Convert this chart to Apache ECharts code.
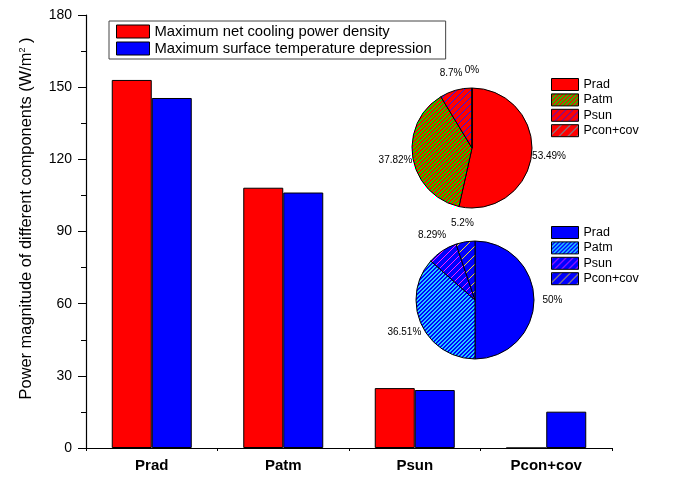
<!DOCTYPE html>
<html>
<head>
<meta charset="utf-8">
<script src="https://cdn.jsdelivr.net/npm/echarts@6/dist/echarts.min.js"></script>
<style>
  html, body { margin: 0; padding: 0; background: #fff; }
  #chart { width: 680px; height: 480px; }
</style>
</head>
<body>
<div id="chart"></div>
<script>
// Components of the radiative cooling power balance
var categories = ['Prad', 'Patm', 'Psun', 'Pcon+cov'];
var seriesNames = ['Maximum net cooling power density', 'Maximum surface temperature depression'];
var coolingPower = [153, 108.2, 24.9, 0];
var tempDepression = [145.5, 106.2, 24.1, 15.1];
// Percentage shares shown in the two pies
var coolingShare = [53.49, 37.82, 8.7, 0];
var depressionShare = [50, 36.51, 8.29, 5.2];
var yTicks = [0, 30, 60, 90, 120, 150, 180];

var FONT = '"Liberation Sans", Arial, sans-serif';

// Crisp diagonal hatch ("/" lines) as a repeating canvas pattern
function hatch(bg, fg, period, width) {
  var c = document.createElement('canvas');
  c.width = period; c.height = period;
  var g = c.getContext('2d');
  g.fillStyle = bg; g.fillRect(0, 0, period, period);
  g.fillStyle = fg;
  for (var y = 0; y < period; y++) {
    for (var x = 0; x < period; x++) {
      if ((x + y) % period < width) g.fillRect(x, y, 1, 1);
    }
  }
  return { image: c, repeat: 'repeat' };
}

var RED = '#ff0000', BLUE = '#0000ff';
var fillsA = [RED, hatch(RED, '#00e000', 4, 2), hatch(RED, '#1a1aff', 7, 1), hatch(RED, '#33ccdd', 9, 1)];
var fillsB = [BLUE, hatch(BLUE, '#22ccff', 4, 2), hatch(BLUE, '#ff22ff', 7, 1), hatch(BLUE, '#f0dd22', 9, 1)];

function pieData(values, fills) {
  return categories.map(function (name, i) {
    return { name: name, value: values[i], itemStyle: { color: fills[i] } };
  });
}
function legendData(fills) {
  return categories.map(function (name, i) {
    return { name: name, itemStyle: { color: fills[i], borderColor: '#000', borderWidth: 1 } };
  });
}

var pieLegendBase = {
  orient: 'vertical', left: 551, itemWidth: 27, itemHeight: 12, itemGap: 2.4,
  padding: 0, icon: 'rect', selectedMode: false,
  textStyle: { fontFamily: FONT, fontSize: 12.5, color: '#000' }
};

// filled pie
var pieBase = {
  type: 'pie', startAngle: 90, clockwise: true, silent: true, animation: false,
  itemStyle: { borderColor: '#000', borderWidth: 1 },
  label: { show: false }, labelLine: { show: false }
};
// transparent ring around each pie that carries the percentage labels
var labelRingBase = {
  type: 'pie', startAngle: 90, clockwise: true, silent: true, animation: false,
  itemStyle: { color: 'rgba(0,0,0,0)', borderWidth: 0 },
  label: { show: true, position: 'inside', formatter: '{c}%', fontFamily: FONT, fontSize: 10, color: '#000' },
  labelLine: { show: false }, avoidLabelOverlap: false
};
function ring(values) {
  return categories.map(function (name, i) { return { name: name, value: values[i] }; });
}

var chart = echarts.init(document.getElementById('chart'), null, { renderer: 'canvas' });
chart.setOption({
  animation: false,
  backgroundColor: '#fff',
  grid: { left: 86, right: 68, top: 15, bottom: 32 },
  legend: [
    {
      data: seriesNames.map(function (n) { return { name: n, itemStyle: { borderColor: '#000', borderWidth: 1 } }; }),
      orient: 'vertical', left: 109, top: 21, itemWidth: 33, itemHeight: 13, itemGap: 2,
      padding: [3, 14, 3, 7], borderColor: '#444', borderWidth: 1, icon: 'rect', selectedMode: false,
      textStyle: { fontFamily: FONT, fontSize: 14.8, color: '#000' }
    },
    Object.assign({}, pieLegendBase, { top: 78, data: legendData(fillsA) }),
    Object.assign({}, pieLegendBase, { top: 226, data: legendData(fillsB) })
  ],
  xAxis: [
    {
      type: 'category', data: categories,
      axisLine: { lineStyle: { color: '#000', width: 1.2 } },
      axisTick: { alignWithLabel: true, length: 5, lineStyle: { color: '#000' } },
      axisLabel: { fontFamily: FONT, fontSize: 15, fontWeight: 'bold', color: '#000', margin: 10 }
    },
    {
      // boundary ticks between the category groups
      type: 'value', min: 0, max: 4, interval: 1, position: 'bottom',
      axisLine: { show: false }, splitLine: { show: false }, axisLabel: { show: false },
      axisTick: { show: true, length: 3, lineStyle: { color: '#000' } }
    }
  ],
  yAxis: {
    type: 'value', min: yTicks[0], max: yTicks[yTicks.length - 1], interval: 30,
    name: 'Power magnitude of different components (W/m{sup|2} )',
    nameLocation: 'middle', nameGap: 52,
    nameTextStyle: {
      fontFamily: FONT, fontSize: 16.4, color: '#000', padding: [0, 0, 0, 26],
      rich: { sup: { fontFamily: FONT, fontSize: 9, color: '#000', verticalAlign: 'top', lineHeight: 9 } }
    },
    axisLine: { show: true, lineStyle: { color: '#000', width: 1.2 } },
    axisTick: { show: true, length: 8, lineStyle: { color: '#000' } },
    minorTick: { show: true, splitNumber: 2, length: 5, lineStyle: { color: '#000' } },
    splitLine: { show: false },
    axisLabel: { fontFamily: FONT, fontSize: 14, color: '#000', margin: 14 }
  },
  series: [
    {
      name: seriesNames[0], type: 'bar', data: coolingPower, barWidth: 40, barGap: '0%',
      itemStyle: { color: RED, borderColor: '#000', borderWidth: 1 }
    },
    {
      name: seriesNames[1], type: 'bar', data: tempDepression, barWidth: 40, barGap: '0%',
      itemStyle: { color: BLUE, borderColor: '#000', borderWidth: 1 }
    },
    Object.assign({}, pieBase, { center: [472, 148], radius: 60, data: pieData(coolingShare, fillsA) }),
    Object.assign({}, labelRingBase, { center: [472, 148], radius: [60, 89], data: ring(coolingShare) }),
    Object.assign({}, pieBase, { center: [475, 300], radius: 59, data: pieData(depressionShare, fillsB) }),
    Object.assign({}, labelRingBase, { center: [475, 300], radius: [59, 90], data: ring(depressionShare) })
  ]
});
</script>
</body>
</html>
